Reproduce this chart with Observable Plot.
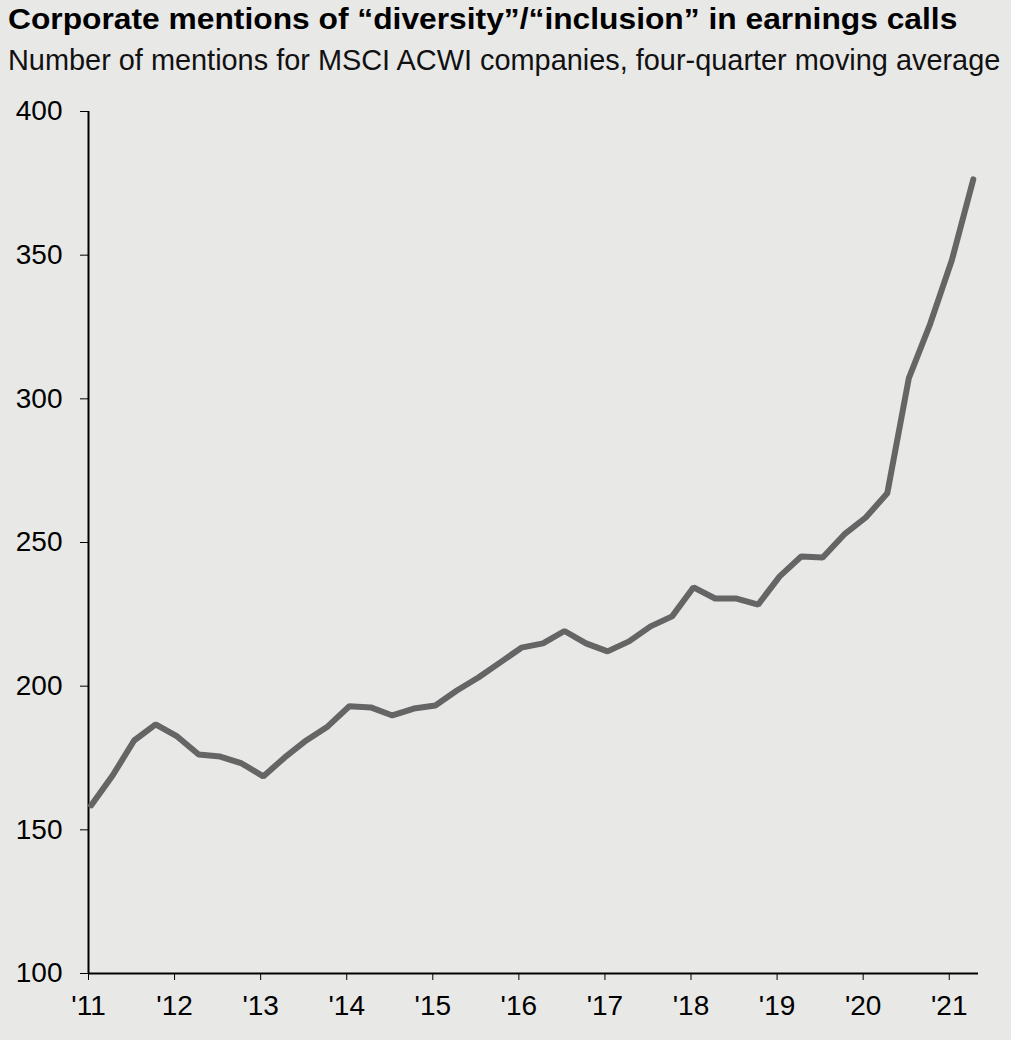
<!DOCTYPE html>
<html>
<head>
<meta charset="utf-8">
<script src="https://cdn.jsdelivr.net/npm/d3@7"></script>
<script src="https://cdn.jsdelivr.net/npm/@observablehq/plot@0.6"></script>
<style>
  html, body { margin: 0; padding: 0; background: #e8e8e7; }
  #wrap { position: relative; width: 1011px; height: 1040px; background: #e8e8e7; font-family: "Liberation Sans", Arial, sans-serif; overflow: hidden; }
  #title { position: absolute; left: 8px; top: 5px; font-size: 29px; line-height: 1; font-weight: bold; color: #000; white-space: nowrap; transform: scaleX(1.095); transform-origin: 0 0; }
  #subtitle { position: absolute; left: 8px; top: 46px; font-size: 28.9px; line-height: 1; color: #111; white-space: nowrap; }
  #chart { position: absolute; left: 0; top: 90px; }
</style>
</head>
<body>
<div id="wrap">
  <div id="title">Corporate mentions of “diversity”/“inclusion” in earnings calls</div>
  <div id="subtitle">Number of mentions for MSCI ACWI companies, four-quarter moving average</div>
  <div id="chart"></div>
</div>
<script>
const startYear = 2011.03;
const mentions = [
  158.5, 168.9, 181.1, 186.7,
  182.5, 176.2, 175.5, 173.1,
  168.6, 175.2, 181.1, 186.0,
  193.0, 192.6, 189.8, 192.2,
  193.3, 198.5, 203.0, 208.2,
  213.4, 214.9, 219.2, 214.9,
  212.1, 215.6, 220.8, 224.3,
  234.4, 230.5, 230.5, 228.4,
  238.2, 245.1, 244.8, 252.8,
  258.7, 267.1, 307.1, 326.2,
  348.2, 376.4
];
const yearTicks = [2011, 2012, 2013, 2014, 2015, 2016, 2017, 2018, 2019, 2020, 2021];
const yTicks = [100, 150, 200, 250, 300, 350, 400];

const data = mentions.map((v, i) => ({t: startYear + i / 4, v}));

const chart = Plot.plot({
  width: 1011,
  height: 950,
  marginLeft: 88,
  marginRight: 33,
  marginTop: 21,
  marginBottom: 67,
  style: {background: "transparent", fontFamily: "Liberation Sans, Arial, sans-serif", fontSize: "28px", color: "#000"},
  x: {domain: [2011, 2021.34], ticks: yearTicks, tickFormat: d => "'" + String(d).slice(2), tickSize: 7, tickPadding: 15, label: null},
  y: {domain: [100, 400], ticks: yTicks, tickSize: 8, tickPadding: 18, label: null},
  marks: [
    Plot.ruleX([2011], {stroke: "#000", strokeWidth: 2}),
    Plot.ruleY([100], {stroke: "#000", strokeWidth: 2}),
    Plot.line(data, {x: "t", y: "v", stroke: "#656565", strokeWidth: 6, strokeLinejoin: "miter", strokeLinecap: "round"})
  ]
});
document.getElementById("chart").appendChild(chart);
</script>
</body>
</html>
